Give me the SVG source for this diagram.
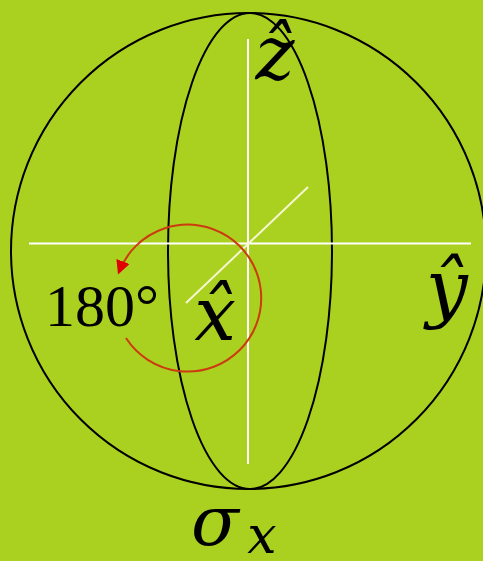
<svg xmlns="http://www.w3.org/2000/svg" width="483" height="561" viewBox="0 0 483 561">
<defs>
<style>
.outline{fill:none;stroke:#000;stroke-width:2}
.axis{stroke:#fff;stroke-width:2}
.math{font-family:"DejaVu Serif","Liberation Serif",serif;font-style:italic;fill:#000}
.roman{font-family:"Liberation Serif","DejaVu Serif",serif;fill:#000}
</style>
<marker id="ah" viewBox="0 0 10 10" refX="8" refY="5" markerWidth="14" markerHeight="14" markerUnits="userSpaceOnUse" orient="auto">
<path d="M0,0 L10,5 L0,10 z" fill="#e00000"/>
</marker>
</defs>
<rect width="483" height="561" fill="#abd120"/>
<g id="sphere">
<ellipse class="outline" cx="248.5" cy="251" rx="237.5" ry="238"/>
<ellipse class="outline" cx="250" cy="251" rx="82" ry="238"/>
</g>
<g id="axes">
<line class="axis" x1="248" y1="39" x2="248" y2="464"/>
<line class="axis" x1="29" y1="243.5" x2="471" y2="243.5"/>
<line x1="186" y1="303" x2="308" y2="187" stroke="#f6f6d2" stroke-width="2"/>
</g>
<g id="rotation">
<path d="M126,338 A73.5,73.5 0 1 0 119,272" fill="none" stroke="#cc3a10" stroke-width="2" marker-end="url(#ah)"/>
</g>
<g id="labels">
<text class="math" x="275" y="79" font-size="74" text-anchor="middle">ẑ</text>
<text class="math" x="447" y="313" font-size="74" text-anchor="middle">ŷ</text>
<text class="math" x="215" y="340" font-size="74" text-anchor="middle">x̂</text>
<text class="roman" x="102" y="326" font-size="60" text-anchor="middle">180°</text>
<text class="math" x="215" y="545" font-size="70" text-anchor="middle">σ</text>
<text class="math" x="262" y="553" font-size="52" text-anchor="middle">x</text>
</g>
</svg>
